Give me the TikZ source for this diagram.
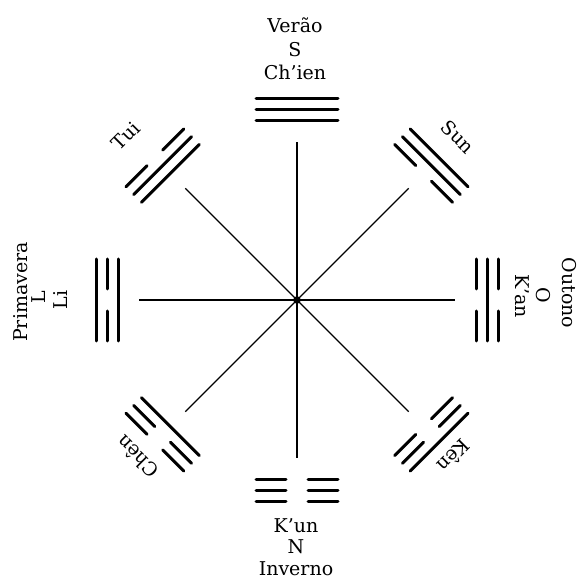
\documentclass[tikz,border=0pt]{standalone}
\usepackage{fontspec}
\setmainfont{DejaVu Serif}
\newcommand\trigline[2]{\ifnum#2=1 \draw[trig] (#1,-41)--(#1,41);\else \draw[trig] (#1,-41)--(#1,-11) (#1,11)--(#1,41);\fi}
\newcommand\trigram[4]{\begin{scope}[shift={(c)},rotate=#1]\trigline{179}{#2}\trigline{190}{#3}\trigline{201}{#4}\end{scope}}
\begin{document}
\begin{tikzpicture}[x=1pt,y=1pt,
  trig/.style={line width=3pt, line cap=round},
  ray/.style={line width=1.1pt},
  lab/.style={font=\fontsize{19}{22}\selectfont, inner sep=0pt}]
\useasboundingbox (0,0) rectangle (581,579);
\coordinate (c) at (297,279);
\foreach \a/\n in {90/s,135/tui,180/l,225/chen,270/n,315/ken,0/o,45/sun}{
  \path (c) ++(\a:158) coordinate (e\n);
  \draw[ray] (c) -- (e\n);
}
\fill (c) circle (3.8);
% trigrams: angle, bottom(inner), middle, top(outer)
\trigram{90}{1}{1}{1}
\trigram{135}{1}{1}{0}
\trigram{180}{1}{0}{1}
\trigram{225}{1}{0}{0}
\trigram{270}{0}{0}{0}
\trigram{315}{0}{0}{1}
\trigram{0}{0}{1}{0}
\trigram{45}{0}{1}{1}
% labels
\node[lab,anchor=base] (ver) at (295,546) {Verão};
\node[lab,anchor=base] (sl) at (295,522) {S};
\node[lab,anchor=base] (chien) at (295,499) {Ch'ien};
\node[lab,anchor=base] (kun) at (296,47) {K'un};
\node[lab,anchor=base] (nl) at (296,26) {N};
\node[lab,anchor=base] (inv) at (296,4) {Inverno};
\node[lab,anchor=base,rotate=90] (pri) at (27,287) {Primavera};
\node[lab,anchor=base,rotate=90] (ll) at (45,282) {L};
\node[lab,anchor=base,rotate=90] (li) at (67,279) {Li};
\node[lab,anchor=base,rotate=-90] (out) at (562,286) {Outono};
\node[lab,anchor=base,rotate=-90] (ol) at (536,284) {O};
\node[lab,anchor=base,rotate=-90] (kan) at (515,283) {K'an};
\node[lab,rotate=45] (tui) at (126,443) {Tui};
\node[lab,rotate=-45] (sun) at (458,442) {Sun};
\node[lab,rotate=135] (chen) at (137,122) {Chên};
\node[lab,rotate=225] (ken) at (454,123) {Kên};
\end{tikzpicture}
\end{document}
